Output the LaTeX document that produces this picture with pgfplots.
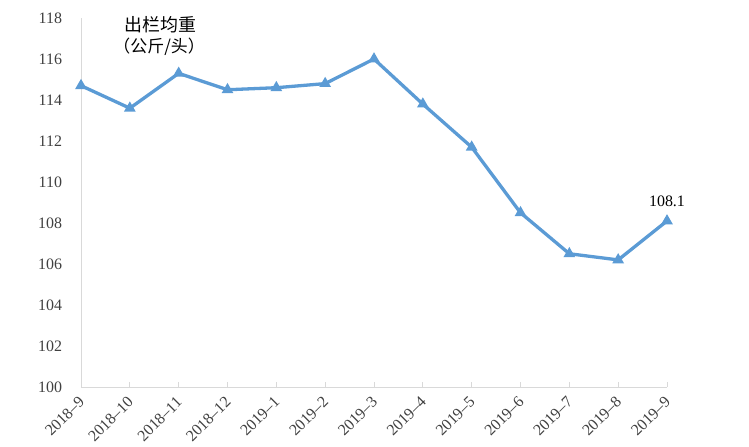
\documentclass[border=0pt]{standalone}
\usepackage{pgfplots}
\pgfplotsset{compat=1.18}
\usepackage{fontspec}
\setmainfont{Liberation Serif}
\newfontfamily\cjk{Noto Sans CJK SC}
\definecolor{lineblue}{HTML}{5B9BD5}
\definecolor{axgray}{HTML}{D9D9D9}
\definecolor{txtgray}{HTML}{404040}
\begin{document}
\begin{tikzpicture}
\path[use as bounding box] (-81bp,-60bp) rectangle (668bp,387bp);
\begin{axis}[
  scale only axis, width=586bp, height=369bp,
  xmin=0, xmax=12, ymin=100, ymax=118,
  ytick={100,102,...,118},
  xtick={0,...,12},
  xticklabels={2018--9,2018--10,2018--11,2018--12,2019--1,2019--2,2019--3,2019--4,2019--5,2019--6,2019--7,2019--8,2019--9},
  axis x line=bottom, axis y line=left,
  axis line style={axgray, line width=0.8bp, -},
  xtick align=inside,
  x tick style={axgray, line width=0.8bp},
  major tick length=5bp,
  y tick style={draw=none},
  tick label style={font=\fontsize{16}{16}\selectfont, text=txtgray},
  yticklabel style={xshift=-13bp},
  /pgf/number format/assume math mode=true,
  /pgf/number format/1000 sep={},
  xticklabel style={xshift=3bp, yshift=-10bp, rotate=45, anchor=east},
  clip=false,
]
\addplot[lineblue, line width=3.3bp, mark=triangle*, mark size=3.5bp, mark options={solid}] coordinates {
(0,114.7) (1,113.6) (2,115.3) (3,114.5) (4,114.6) (5,114.8) (6,116.0)
(7,113.8) (8,111.7) (9,108.5) (10,106.5) (11,106.2) (12,108.1)};
\node[font=\fontsize{16}{16}\selectfont, text=black] at (axis cs:12,109.05) {108.1};
\node[font=\cjk\fontsize{18}{18}\selectfont, text=black] at (axis cs:1.62,117.66) {出栏均重};
\node[font=\cjk\fontsize{17}{17}\selectfont, text=black] at (axis cs:1.6,116.59) {（公斤/头）};
\end{axis}
\end{tikzpicture}
\end{document}
